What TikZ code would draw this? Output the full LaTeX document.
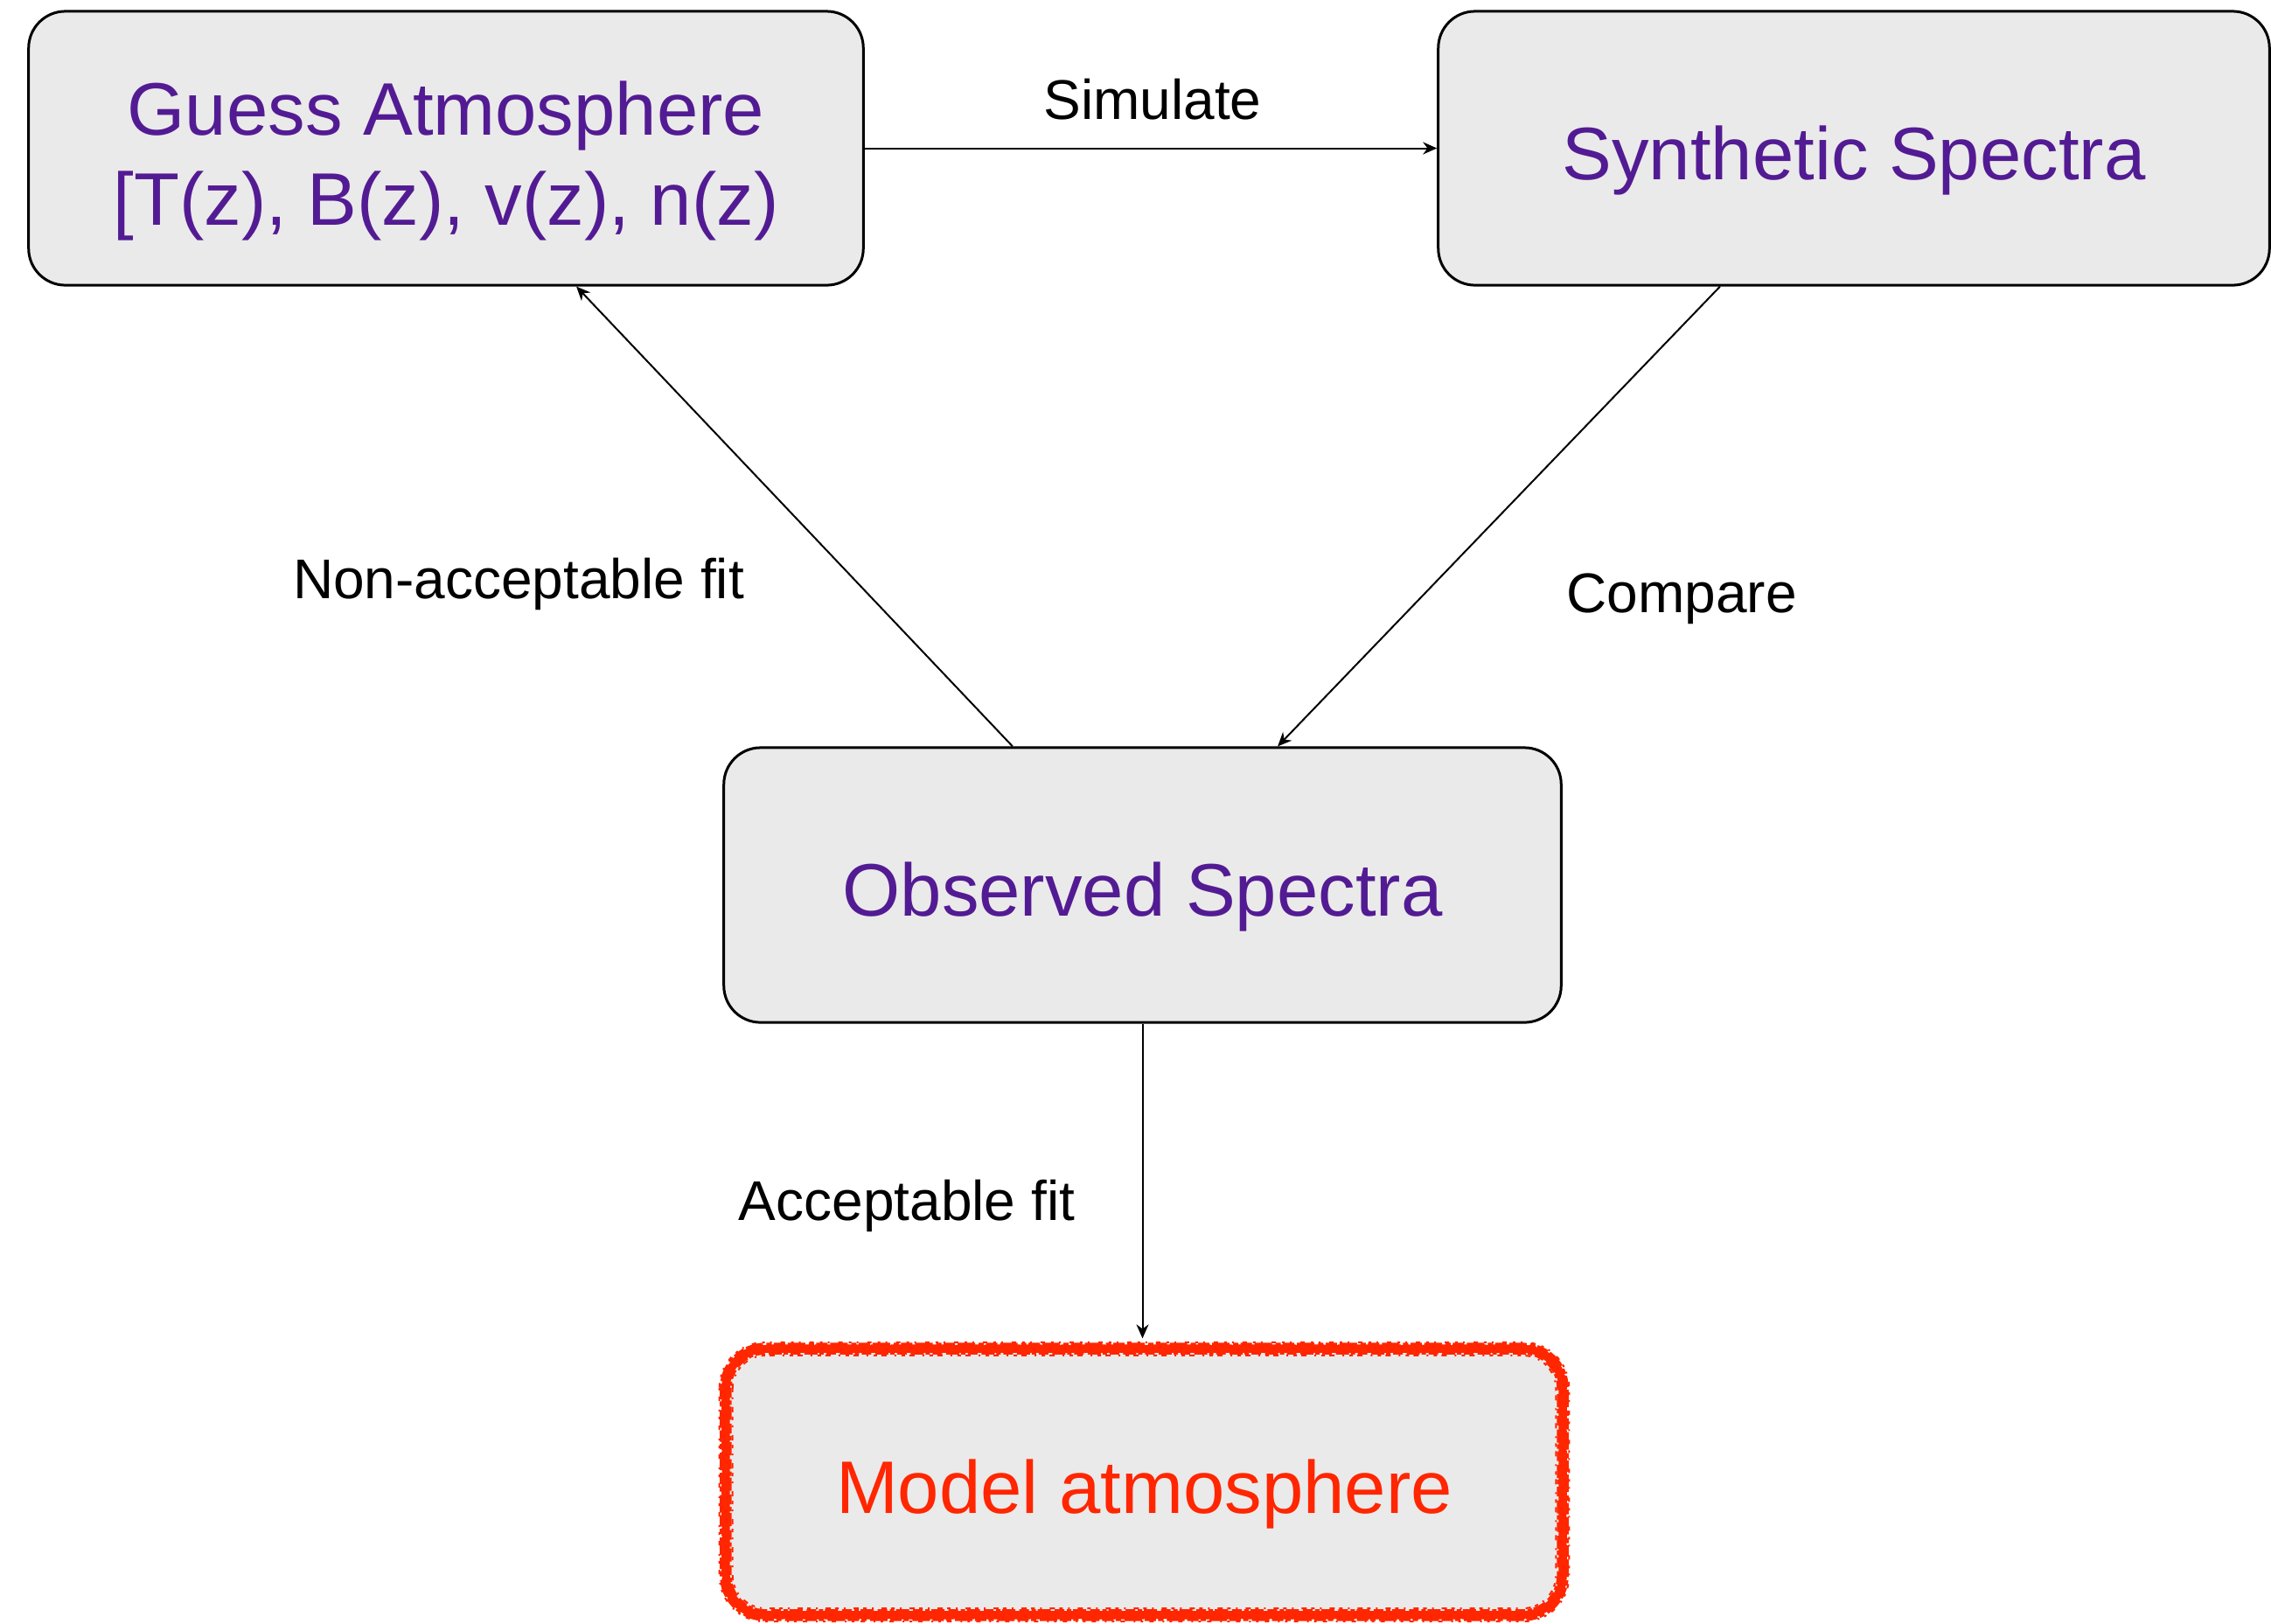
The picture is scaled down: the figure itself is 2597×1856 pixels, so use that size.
\documentclass[tikz,border=0pt]{standalone}
\usepackage{fontspec}
\setmainfont{Liberation Sans}
\usetikzlibrary{arrows.meta,calc}
\definecolor{kpurple}{HTML}{531B93}
\definecolor{kred}{HTML}{FF2600}
\definecolor{kgray}{HTML}{EAEAEA}
\begin{document}
\begin{tikzpicture}[x=0.01cm,y=-0.01cm,
  box/.style={rectangle, rounded corners=0.42cm, fill=kgray, draw=black, line width=0.03cm,
    align=center, text=kpurple, font=\fontsize{24.2}{29.3}\selectfont, inner sep=0pt,
    text height=0.714cm, text depth=0pt},
  lbl/.style={font=\fontsize{18.2}{21}\selectfont, text=black, inner sep=0pt, anchor=base},
  conn/.style={line width=0.02cm, -{Stealth[length=0.16cm,width=0.14cm]}},
  chalk/.style={kred, line cap=butt, line width=0.03cm}]
\useasboundingbox (0,0) rectangle (2597,1856);
\node[box, minimum width=9.54cm, minimum height=3.13cm, text height=1.75cm] (guess) at (510,169.5)
  {Guess Atmosphere\\{[}T(z), B(z), v(z), n(z)};
\node[box, minimum width=9.50cm, minimum height=3.13cm] (synth) at (2120,169.5)
  {Synthetic Spectra};
\node[box, minimum width=9.57cm, minimum height=3.14cm] (obs) at (1306.5,1012)
  {Observed Spectra};
\node[box, draw=none, text=kred, rounded corners=0.45cm, minimum width=9.53cm, minimum height=3.01cm] (model) at (1308.5,1694.5)
  {Model atmosphere};
% chalky red border
\draw[kred, line width=0.09cm, rounded corners=0.45cm] (model.north west) rectangle (model.south east);
\draw[chalk, rounded corners=0.5cm, dash pattern=on 0.13cm off 0.025cm on 0.06cm off 0.04cm on 0.2cm off 0.03cm]
  ([shift={(-0.055cm,0.055cm)}]model.north west) rectangle ([shift={(0.055cm,-0.055cm)}]model.south east);
\draw[chalk, rounded corners=0.48cm, dash pattern=on 0.07cm off 0.035cm on 0.17cm off 0.02cm on 0.09cm off 0.05cm]
  ([shift={(-0.035cm,0.035cm)}]model.north west) rectangle ([shift={(0.035cm,-0.035cm)}]model.south east);
\draw[chalk, rounded corners=0.4cm, dash pattern=on 0.11cm off 0.03cm on 0.05cm off 0.02cm on 0.15cm off 0.045cm]
  ([shift={(0.05cm,-0.05cm)}]model.north west) rectangle ([shift={(-0.05cm,0.05cm)}]model.south east);
\draw[chalk, line width=0.02cm, rounded corners=0.38cm, dash pattern=on 0.04cm off 0.06cm on 0.02cm off 0.09cm on 0.06cm off 0.05cm]
  ([shift={(0.075cm,-0.075cm)}]model.north west) rectangle ([shift={(-0.075cm,0.075cm)}]model.south east);
\draw[chalk, line width=0.02cm, rounded corners=0.52cm, dash pattern=on 0.03cm off 0.07cm on 0.05cm off 0.1cm on 0.02cm off 0.06cm]
  ([shift={(-0.075cm,0.075cm)}]model.north west) rectangle ([shift={(0.075cm,-0.075cm)}]model.south east);
\node[lbl] (lsim) at (1318,136) {Simulate};
\node[lbl] (lnon) at (593,684) {Non-acceptable fit};
\node[lbl] (lcmp) at (1923,700) {Compare};
\node[lbl] (lacc) at (1037,1395) {Acceptable fit};
\draw[conn] (guess) -- (synth);
\draw[conn] ([xshift=-1.53cm]synth.south) -- ([xshift=1.545cm]obs.north);
\draw[conn] ([xshift=-1.485cm]obs.north) -- ([xshift=1.49cm]guess.south);
\draw[conn, shorten >=0.12cm] (obs.south) -- (obs.south |- model.north);
\end{tikzpicture}
\end{document}
